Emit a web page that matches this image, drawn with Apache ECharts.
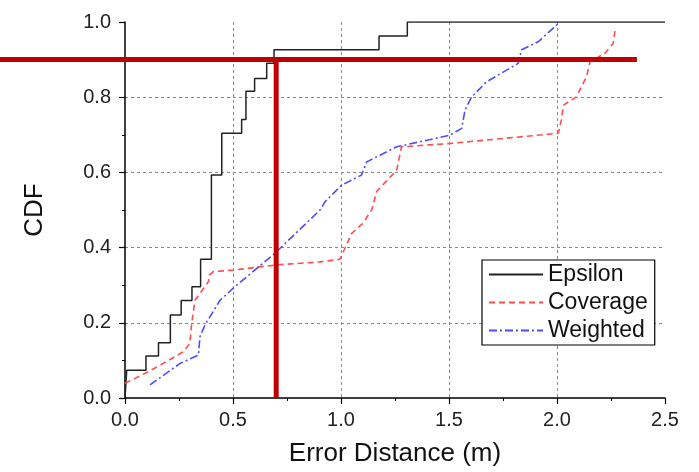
<!DOCTYPE html>
<html>
<head>
<meta charset="utf-8">
<script src="https://cdn.jsdelivr.net/npm/echarts@6/dist/echarts.min.js"></script>
<style>html,body{margin:0;padding:0;background:#fff}#c{width:699px;height:472px}</style>
</head>
<body>
<div id="c"></div>
<script>
// ---- data ----
const epsX = [0, 0.008, 0.097, 0.155, 0.21, 0.26, 0.31, 0.35, 0.40, 0.448, 0.54, 0.56, 0.60, 0.656, 0.69, 1.176, 1.307, 2.5];
const epsY = [0, 0.074, 0.112, 0.147, 0.221, 0.259, 0.296, 0.369, 0.593, 0.704, 0.741, 0.816, 0.85, 0.89, 0.926, 0.963, 1.0, 1.0];

const covX = [0, 0.108, 0.177, 0.27, 0.30, 0.309, 0.324, 0.386, 0.39, 0.409, 0.50, 0.70, 0.903, 0.995, 1.05, 1.10, 1.142, 1.165, 1.258, 1.28, 1.505, 2.006, 2.02, 2.03, 2.09, 2.137, 2.153, 2.222, 2.26, 2.27];
const covY = [0.039, 0.07, 0.092, 0.123, 0.145, 0.199, 0.26, 0.309, 0.327, 0.336, 0.34, 0.354, 0.362, 0.369, 0.438, 0.464, 0.5, 0.549, 0.606, 0.668, 0.677, 0.704, 0.739, 0.779, 0.801, 0.855, 0.894, 0.917, 0.943, 0.983];

const wgtX = [0.116, 0.255, 0.34, 0.347, 0.37, 0.44, 0.509, 0.694, 0.903, 0.926, 1.003, 1.095, 1.119, 1.258, 1.505, 1.559, 1.574, 1.605, 1.674, 1.82, 1.836, 1.914, 2.006];
const wgtY = [0.035, 0.092, 0.114, 0.163, 0.194, 0.26, 0.296, 0.385, 0.5, 0.522, 0.566, 0.593, 0.628, 0.668, 0.699, 0.717, 0.766, 0.801, 0.841, 0.89, 0.926, 0.948, 0.996];

// annotation lines (threshold CDF = 0.9, error = 0.7 m)
const hLineX = [-0.579, 2.37];
const hLineY = [0.9, 0.9];
const vLineX = [0.7, 0.7];
const vLineY = [0, 0.9];

const seriesNames = ['Epsilon', 'Coverage', 'Weighted'];
const xTicks = {min: 0, max: 2.5, interval: 0.5};
const yTicks = {min: 0, max: 1.0, interval: 0.2};

const zip = (xs, ys) => xs.map((x, i) => [x, ys[i]]);
const FONT = '"Liberation Sans", Arial, sans-serif';

const chart = echarts.init(document.getElementById('c'), null, {renderer: 'canvas'});
const axisCommon = {
  axisLine: {show: true, onZero: false, lineStyle: {color: '#000', width: 1.5}},
  axisTick: {show: true, inside: false, length: 6, lineStyle: {color: '#000', width: 1.2}},
  minorTick: {show: true, splitNumber: 2, length: 3, lineStyle: {color: '#000', width: 1}},
  splitLine: {show: true, showMinLine: false, showMaxLine: false, lineStyle: {color: '#888', type: [3, 3], width: 1}},
  axisLabel: {color: '#222', fontSize: 20, fontFamily: FONT, formatter: v => v.toFixed(1)},
  nameLocation: 'middle',
  nameTextStyle: {color: '#111', fontSize: 26, fontFamily: FONT}
};

chart.setOption({
  animation: false,
  backgroundColor: '#fff',
  grid: {left: 125, right: 34, top: 22, bottom: 74, containLabel: false},
  xAxis: Object.assign({}, axisCommon, {
    type: 'value', min: xTicks.min, max: xTicks.max, interval: xTicks.interval,
    name: 'Error Distance (m)', nameGap: 43,
    axisLabel: Object.assign({}, axisCommon.axisLabel, {margin: 12})
  }),
  yAxis: Object.assign({}, axisCommon, {
    type: 'value', min: yTicks.min, max: yTicks.max, interval: yTicks.interval,
    name: 'CDF', nameGap: 77,
    axisLabel: Object.assign({}, axisCommon.axisLabel, {margin: 14})
  }),
  legend: {
    data: seriesNames,
    orient: 'vertical', left: 482, top: 260,
    backgroundColor: '#fff', borderColor: '#000', borderWidth: 1.2,
    padding: [3, 7, 3, 6], itemGap: 5, itemWidth: 54, itemHeight: 14,
    textStyle: {fontSize: 23, color: '#111', fontFamily: FONT},
    itemStyle: {opacity: 0}
  },
  series: [
    {name: seriesNames[0], type: 'line', step: 'end', data: zip(epsX, epsY), symbol: 'none',
     lineStyle: {color: '#222', width: 1.5}, itemStyle: {color: '#222'}, z: 3},
    {name: seriesNames[1], type: 'line', data: zip(covX, covY), symbol: 'none',
     lineStyle: {color: '#ff4d4d', width: 1.6, type: [6, 4]}, itemStyle: {color: '#ff4d4d'}, z: 3},
    {name: seriesNames[2], type: 'line', data: zip(wgtX, wgtY), symbol: 'none',
     lineStyle: {color: '#4d4dff', width: 1.6, type: [8, 3, 2, 3]}, itemStyle: {color: '#4d4dff'}, z: 3}
  ]
});

// threshold annotation lines positioned through the chart's own scales
function annot(xs, ys) {
  const p0 = chart.convertToPixel({gridIndex: 0}, [xs[0], ys[0]]);
  const p1 = chart.convertToPixel({gridIndex: 0}, [xs[1], ys[1]]);
  return {type: 'line', silent: true, z: 100,
    shape: {x1: p0[0], y1: p0[1], x2: p1[0], y2: p1[1]},
    style: {stroke: '#c00000', lineWidth: 5}};
}
chart.setOption({graphic: {elements: [annot(hLineX, hLineY), annot(vLineX, vLineY)]}});
</script>
</body>
</html>
